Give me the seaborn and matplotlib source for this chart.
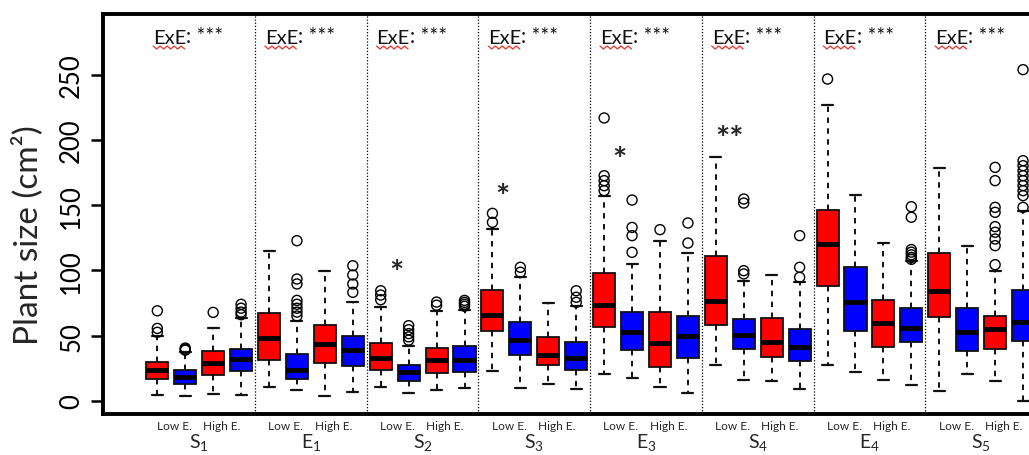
import numpy as np
import pandas as pd
import matplotlib
matplotlib.use("Agg")
import matplotlib.pyplot as plt
import matplotlib.transforms as mtransforms
from matplotlib.lines import Line2D
import seaborn as sns

# ---------------- data ----------------
group_letters = ["S", "E", "S", "S", "E", "S", "E", "S"]
group_numbers = [1, 1, 2, 3, 3, 4, 4, 5]
env_labels = ["Low E.", "High E."]
interaction_label = ["***"] * 8

whis_lo = [4.6, 3.4, 5.1, 4.4,   10.7, 8.5, 3.8, 6.4,
           10.3, 5.7, 8.5, 9.5,  23.0, 9.5, 12.8, 9.0,
           20.5, 17.2, 10.3, 5.9, 27.4, 16.1, 15.4, 9.0,
           27.6, 21.8, 15.9, 12.3, 7.7, 20.5, 15.4, 0.0]
q1 = [16.7, 12.8, 20.0, 22.6,  31.5, 16.7, 28.7, 26.9,
      23.8, 15.4, 21.3, 21.8,  53.7, 35.1, 27.4, 23.6,
      56.3, 38.9, 25.6, 32.5,  58.3, 39.7, 33.3, 30.7,
      87.8, 53.2, 41.4, 44.8,  64.0, 38.4, 39.7, 45.6]
median = [23.6, 18.0, 28.7, 32.0,  47.9, 23.6, 43.5, 39.1,
          32.5, 22.3, 31.2, 31.5,  65.8, 46.6, 35.1, 32.5,
          73.7, 52.5, 44.3, 49.4,  76.8, 50.4, 44.8, 41.4,
          120.3, 76.0, 59.6, 55.6, 84.0, 53.0, 55.0, 60.2]
q3 = [30.0, 23.6, 38.4, 39.7,  67.0, 35.8, 58.1, 49.4,
      44.0, 27.4, 40.5, 42.2,  85.2, 60.2, 48.7, 44.8,
      98.0, 68.3, 67.8, 65.2,  110.8, 62.7, 63.5, 55.0,
      146.4, 102.4, 77.3, 71.2, 113.4, 70.9, 64.8, 85.0]
whis_hi = [49.5, 37.6, 55.6, 63.5,  115.1, 61.0, 99.8, 76.0,
           71.7, 42.2, 68.6, 70.0,  131.8, 94.7, 75.0, 72.9,
           157.4, 104.9, 122.4, 113.4, 187.3, 92.1, 96.8, 90.9,
           227.0, 158.1, 120.8, 107.0, 178.4, 118.5, 99.8, 145.4]
outliers = [
    [69.0, 55.5, 52.5], [40.4, 39.5, 38.8], [67.8], [74.0, 71.0, 68.0, 66.0],
    [], [122.8, 93.4, 89.6, 77.0, 74.0, 71.0, 68.0, 65.0], [], [103.6, 96.5, 89.6, 83.2],
    [84.4, 81.1, 77.5], [57.6, 54.5, 51.5, 49.0, 46.5], [75.7, 73.3], [77.0, 75.5, 74.0, 72.5],
    [143.8, 136.9], [102.4, 98.6], [], [84.4, 79.4, 75.5],
    [217.0, 172.7, 168.9, 165.0, 161.2], [154.0, 133.0, 126.7, 113.9], [131.3], [136.4, 121.0],
    [], [154.8, 151.7, 99.8, 97.3], [], [126.7, 102.4, 94.7],
    [246.9], [], [], [148.9, 140.8, 116.0, 114.0, 112.0, 110.0, 108.5],
    [], [], [179.1, 168.9, 148.4, 144.6, 133.6, 129.3, 124.1, 119.0, 104.4],
    [254.1, 184.2, 180.4, 176.5, 172.7, 168.9, 165.1, 161.2, 157.4, 148.4],
]
star_text = ["*", "*", "*", "**"]
star_x = [8.57, 12.35, 16.55, 20.5]
star_y = [98.0, 156.0, 184.0, 200.8]
yticks = [0, 50, 100, 150, 200, 250]

series_colors = ["#ff0000", "#0000ff", "#ff0000", "#0000ff"]

# ---------------- build long table for seaborn ----------------
n_box = len(q1)
box_ids = [f"b{i:02d}" for i in range(n_box)]
rows = []
for i in range(n_box):
    vals = [whis_lo[i]] + [q1[i]] * 10 + [median[i]] * 10 + [q3[i]] * 10 + [whis_hi[i]]
    rows += [(box_ids[i], v) for v in vals]
df = pd.DataFrame(rows, columns=["box", "size"])
palette = {box_ids[i]: series_colors[i % 4] for i in range(n_box)}

sns.set_theme(style="white")
plt.rcParams["font.family"] = ["Lato", "DejaVu Sans"]
plt.rcParams["mathtext.default"] = "regular"

fig = plt.figure(figsize=(10.29, 4.56), dpi=100)
ax = fig.add_axes([103 / 1029, 41 / 456, 934 / 1029, 400 / 456])

sns.boxplot(data=df, x="box", y="size", hue="box", order=box_ids, hue_order=box_ids,
            palette=palette, legend=False, width=0.79, whis=(0, 100), showfliers=False,
            linecolor="#111111", linewidth=1.3, dodge=False, saturation=1,
            medianprops=dict(linewidth=3.5, color="black", solid_capstyle="butt"),
            whiskerprops=dict(linestyle=(0, (2.8, 2.8)), linewidth=1.4),
            capprops=dict(linewidth=1.6), ax=ax)

fx = [i for i, fl in enumerate(outliers) for _ in fl]
fy = [v for fl in outliers for v in fl]
ax.scatter(fx, fy, s=52, facecolors="none", edgecolors="black", linewidths=1.0, zorder=4)

for g in range(1, len(group_letters)):
    ax.axvline(4 * g - 0.5, color="black", lw=0.9, ls=(0, (1, 1.5)), zorder=0)

ax.set_xlim(-1.945, 31.5)
ax.set_ylim(-10.2, 296.8)

for s in ["left", "top", "bottom"]:
    ax.spines[s].set_linewidth(2.8)
    ax.spines[s].set_color("black")
ax.spines["right"].set_visible(False)

ax.set_yticks(yticks)
ax.tick_params(axis="y", left=True, length=8.6, width=1.8, labelsize=18.5,
               labelrotation=90, pad=5, colors="black")
for lab in ax.get_yticklabels():
    lab.set_va("center")

xt, xl = [], []
for g in range(len(group_letters)):
    xt += [4 * g + 0.5 + 0.1, 4 * g + 2.5 - 0.2]
    xl += env_labels
ax.set_xticks(xt)
ax.set_xticklabels(xl)
ax.tick_params(axis="x", bottom=True, length=0, labelsize=8.6, pad=4)
ax.set_xlabel("")

ax.set_ylabel("Plant size (cm²)", fontsize=24)
ax.yaxis.label.set_va("center")
ax.yaxis.set_label_coords((27 - 103) / 934, (415 - 235) / 400)

xtr = ax.get_xaxis_transform()
exe_texts = []
for g in range(len(group_letters)):
    ax.text(4 * g + 1.5, -0.07, f"${group_letters[g]}_{group_numbers[g]}$",
            transform=xtr, fontsize=14, ha="center", va="center", clip_on=False)
    t1 = ax.text(4 * g - 0.15, 0.9275, "ExE", transform=xtr, fontsize=14.5,
                 ha="left", va="baseline", color="#111111")
    ax.annotate(": " + interaction_label[g], xy=(1, 0), xycoords=t1, fontsize=15,
                ha="left", va="bottom", color="#111111")
    exe_texts.append(t1)

for s, x, y in zip(star_text, star_x, star_y):
    ax.text(x, y, s, fontsize=24, fontweight="bold", ha="center", va="center")

fig.canvas.draw()
base = xtr.transform((0, 0.9275))[1]
for t1 in exe_texts:
    bb = t1.get_window_extent()
    xs = np.arange(bb.x0, bb.x1 + 0.1, 3.5)
    ys = base - 4.5 + 1.5 * (-1.0) ** np.arange(len(xs))
    fig.add_artist(Line2D(xs, ys, color="#e8332a", lw=0.9,
                          transform=mtransforms.IdentityTransform()))

fig.savefig("out.png", dpi=100)
